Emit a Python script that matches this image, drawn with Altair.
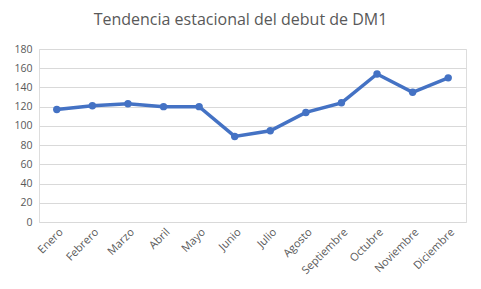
import altair as alt
import pandas as pd

months = ["Enero", "Febrero", "Marzo", "Abril", "Mayo", "Junio", "Julio",
          "Agosto", "Septiembre", "Octubre", "Noviembre", "Diciembre"]
values = [117, 121, 123, 120, 120, 89, 95, 114, 124, 154, 135, 150]

df = pd.DataFrame({"mes": months, "valor": values})

base = alt.Chart(df).encode(
    x=alt.X("mes:N", sort=months, title=None,
            scale=alt.Scale(paddingInner=0, paddingOuter=0),
            axis=alt.Axis(labelAngle=-45, labelAlign="right", labelBaseline="top",
                          labelFontSize=11, labelColor="#595959", labelFont="Open Sans",
                          domain=False, ticks=False, grid=False, labelPadding=4)),
    y=alt.Y("valor:Q", title=None,
            scale=alt.Scale(domain=[0, 180], nice=False),
            axis=alt.Axis(values=list(range(0, 181, 20)), labelFontSize=10.5,
                          labelColor="#595959", labelFont="Open Sans",
                          domain=False, ticks=False, gridColor="#d9d9d9",
                          gridWidth=1, labelPadding=7)),
)

line = base.mark_line(color="#4472C4", strokeWidth=3.5)
pts = base.mark_point(color="#4472C4", filled=True, opacity=1, size=55)

chart = (line + pts).properties(
    width=427, height=173,
    title=alt.TitleParams("Tendencia estacional del debut de DM1", font="Open Sans",
                          fontSize=16, fontWeight="normal", color="#595959",
                          anchor="middle", dx=-12, offset=16),
    autosize=alt.AutoSizeParams(type="none"),
    padding={"left": 39, "top": 49, "right": 15, "bottom": 67},
).configure_view(stroke=None).configure(background="white")

chart.save("out.html", embed_options={"renderer": "svg", "actions": False})
